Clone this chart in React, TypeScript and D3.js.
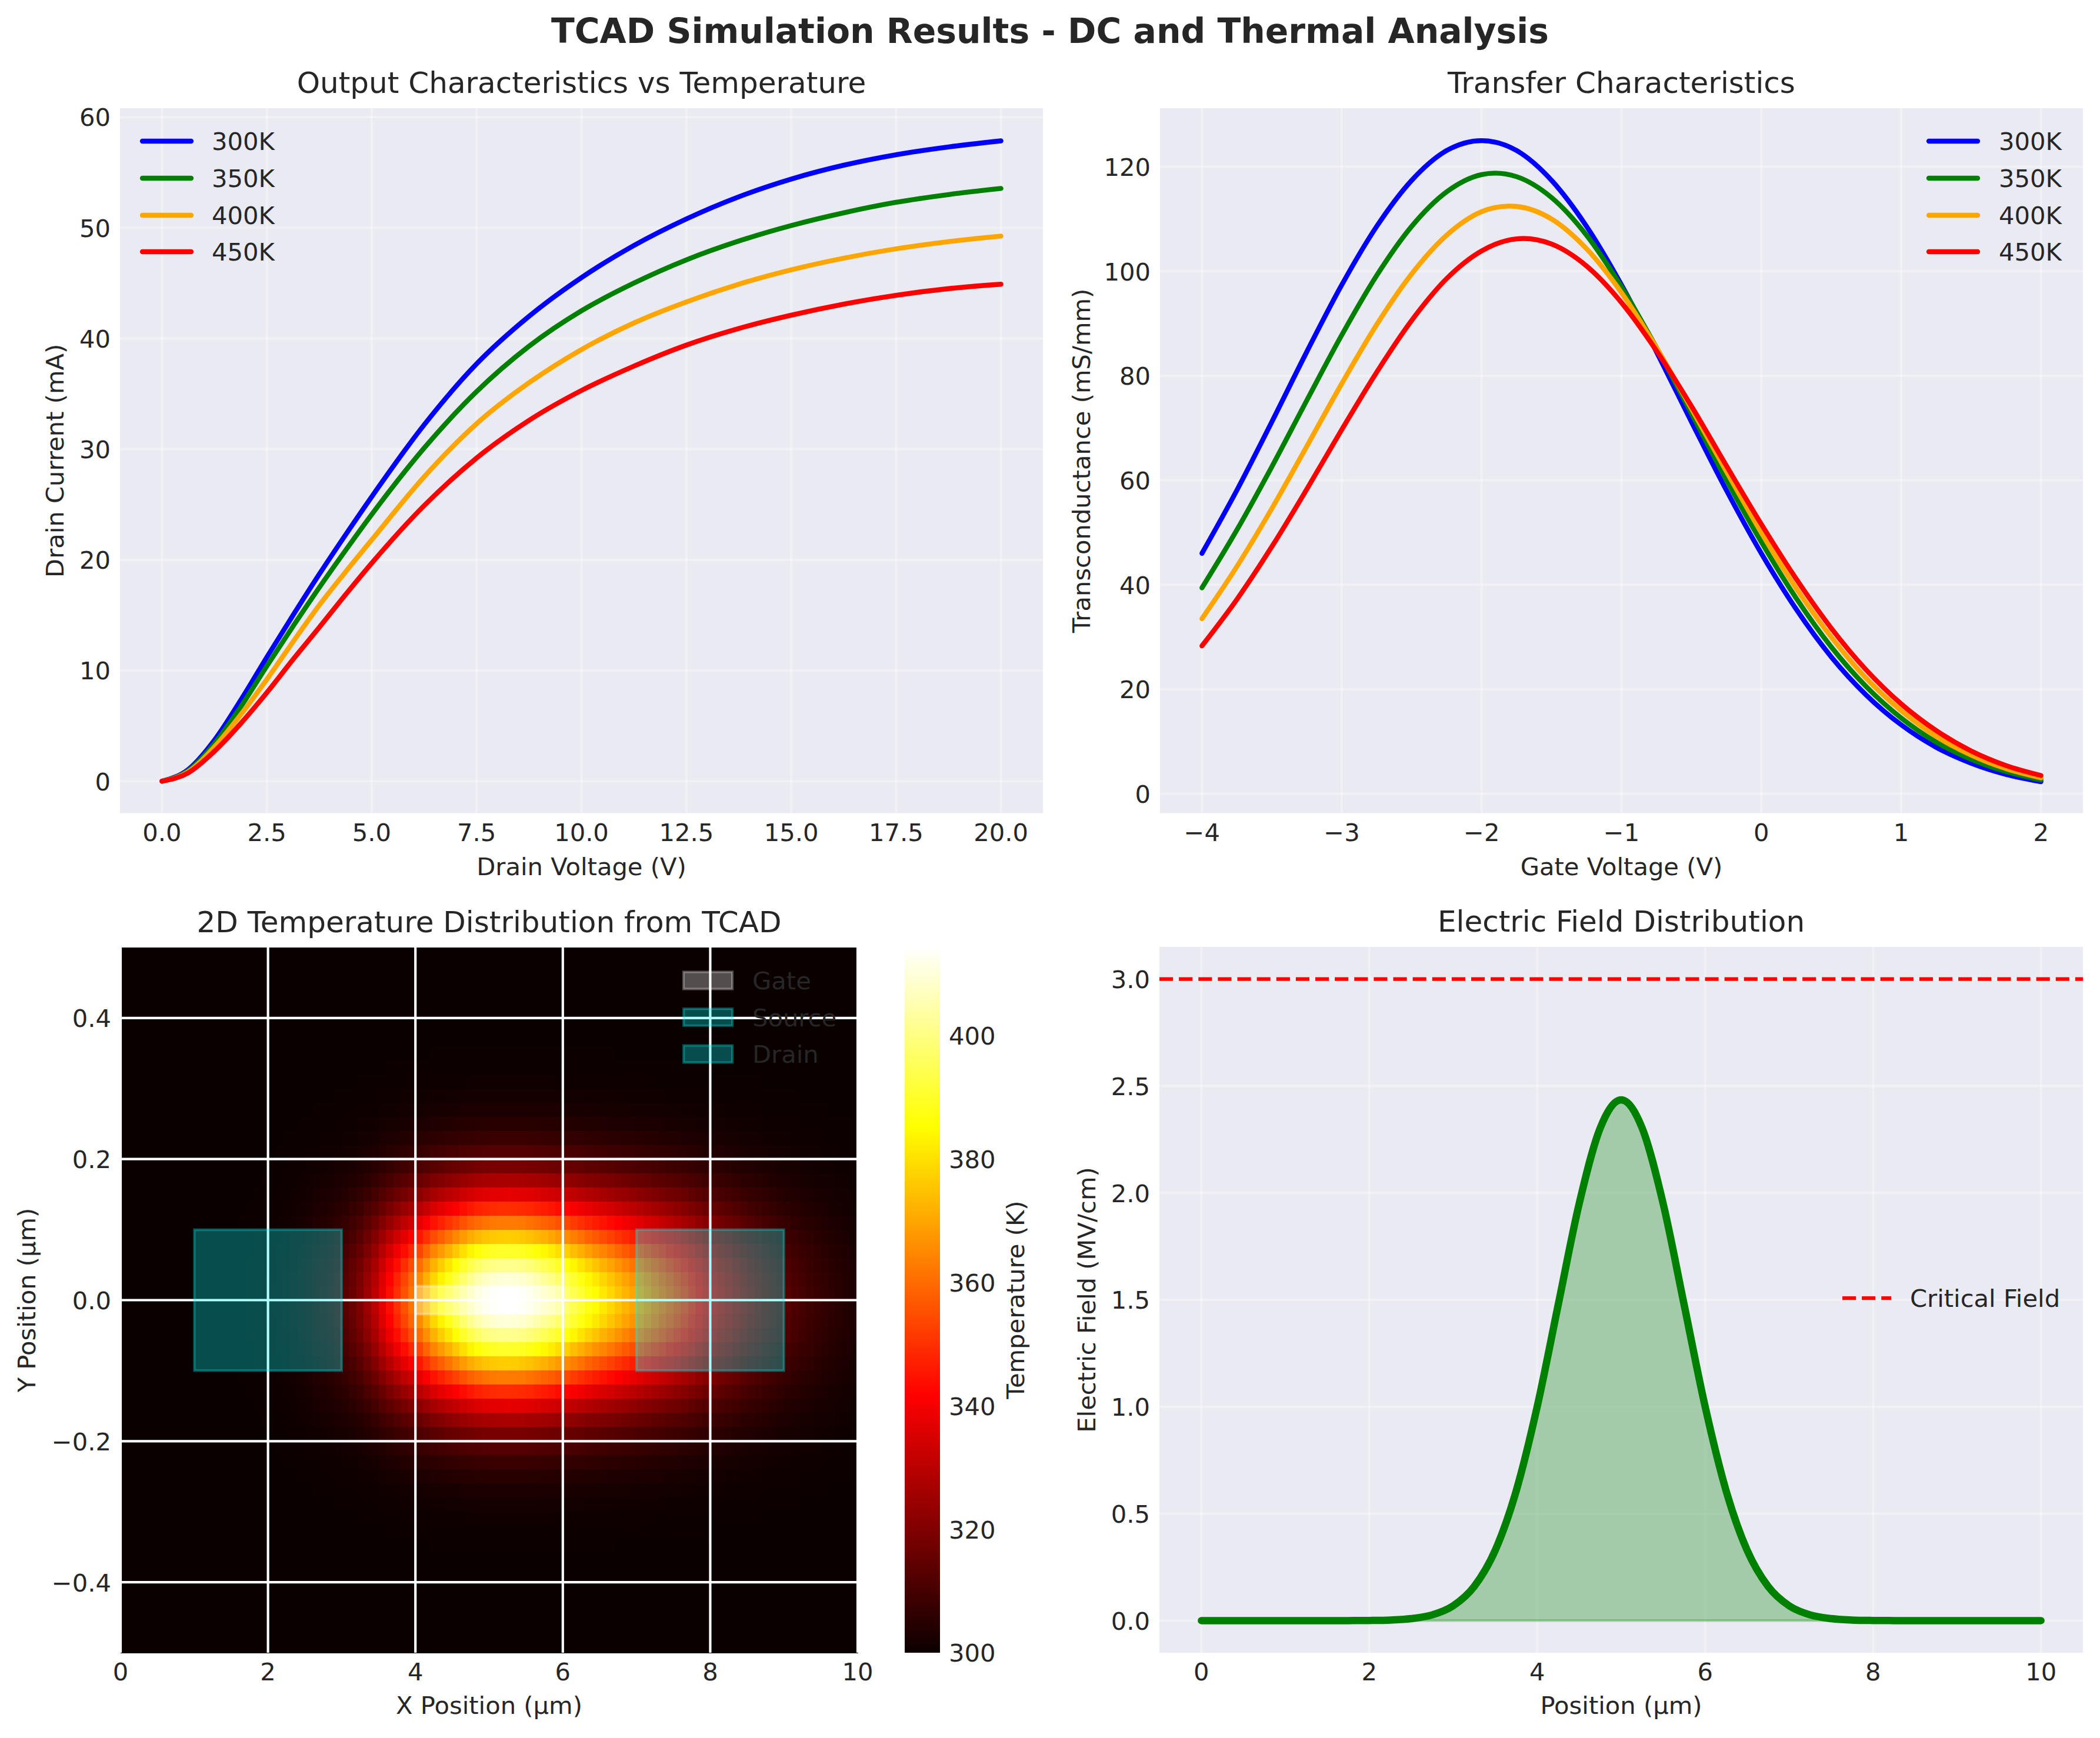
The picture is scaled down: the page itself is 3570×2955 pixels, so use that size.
import React, { useEffect, useRef } from 'react';
import * as d3 from 'd3';

const temperatures = ['300K', '350K', '400K', '450K'];
const seriesColors = ['#0000ff', '#008000', '#ffa500', '#ff0000'];

// Output characteristics
const drainV = [0, 0.625, 1.25, 1.875, 2.5, 3.125, 3.75, 4.375, 5, 6.25, 7.5, 8.75, 10, 11.25, 12.5, 13.75, 15, 16.25, 17.5, 18.75, 20];
const id300 = [0, 1.05, 3.7, 7.3, 11.2, 15.0, 18.7, 22.25, 25.7, 32.2, 37.7, 42.0, 45.5, 48.4, 50.8, 52.8, 54.4, 55.65, 56.6, 57.3, 57.85];
const id350 = [0, 0.95, 3.4, 6.7, 10.4, 14.0, 17.5, 20.85, 24.1, 30.1, 35.2, 39.3, 42.5, 45.0, 47.1, 48.8, 50.2, 51.35, 52.3, 53.0, 53.55];
const id400 = [0, 0.85, 3.1, 6.0, 9.2, 12.6, 15.9, 18.9, 21.8, 27.5, 32.3, 36.0, 39.0, 41.4, 43.3, 44.9, 46.2, 47.25, 48.1, 48.75, 49.25];
const id450 = [0, 0.75, 2.7, 5.2, 8.0, 11.0, 13.9, 16.85, 19.7, 24.9, 29.2, 32.6, 35.3, 37.5, 39.4, 40.9, 42.1, 43.1, 43.9, 44.5, 44.9];
const outputSeries = [id300, id350, id400, id450];

// Transfer characteristics, top right panel
const gateV = [-4, -3.75, -3.5, -3.25, -3, -2.75, -2.5, -2.25, -2, -1.75, -1.5, -1.25, -1, -0.75, -0.5, -0.25, 0, 0.25, 0.5, 0.75, 1, 1.25, 1.5, 1.75, 2];
const gm300 = [46.0, 58.1, 71.2, 84.6, 97.4, 108.6, 117.4, 123.1, 125.0, 123.1, 117.4, 108.6, 97.4, 84.6, 71.2, 58.1, 46.0, 35.3, 26.2, 18.9, 13.2, 8.9, 5.85, 3.7, 2.3];
const gm350 = [39.4, 50.5, 62.6, 75.3, 87.8, 99.2, 108.6, 115.2, 118.5, 118.1, 114.1, 106.9, 97.0, 85.4, 72.8, 60.1, 48.2, 37.4, 28.1, 20.5, 14.5, 9.9, 6.6, 4.25, 2.65];
const gm400 = [33.5, 43.5, 54.6, 66.5, 78.5, 89.8, 99.5, 106.9, 111.4, 112.4, 110.0, 104.3, 95.9, 85.4, 73.7, 61.7, 50.0, 39.3, 30.0, 22.1, 15.9, 11.0, 7.4, 4.8, 3.05];
const gm450 = [28.3, 37.2, 47.3, 58.3, 69.7, 80.7, 90.6, 98.6, 103.9, 106.2, 105.2, 101.0, 94.0, 84.8, 74.2, 62.8, 51.6, 41.1, 31.7, 23.7, 17.2, 12.1, 8.2, 5.4, 3.5];
const transferSeries = [gm300, gm350, gm400, gm450];

// Temperature map: rise above 300 K along the centre row (100 columns) and falloff per row (50 rows)
const columnRise = [
  0, 0, 0, 0, 0, 0, 0, 0, 0, 0,
  0, 0, 0, 0.1, 0.1, 0.2, 0.3, 0.4, 0.6, 0.9,
  1.2, 1.7, 2.3, 3.1, 4.1, 5.3, 6.8, 8.0, 9.5, 11.5,
  13.5, 16.5, 20, 25, 30.5, 37.5, 44, 50, 56, 62,
  68.5, 75, 82, 87, 92, 97, 102, 106.5, 110, 112.5,
  114, 114.8, 115, 114.7, 113.8, 112, 110, 107.5, 105, 102,
  98.5, 95, 91.5, 88, 85, 82, 79, 76, 73, 70,
  67, 64, 61, 58, 55, 52, 49, 45.5, 42, 38.5,
  35, 32.5, 30, 27.5, 25, 22.5, 20.5, 18.5, 16.5, 14.5,
  13, 11.5, 10, 9, 7.8, 6.8, 5.8, 5, 4.2, 3.5,
];
const rowFalloff = [
  0, 0, 0, 0, 0, 0.0005, 0.001, 0.002, 0.004, 0.008,
  0.015, 0.026, 0.044, 0.071, 0.11, 0.164, 0.236, 0.325, 0.43, 0.546,
  0.667, 0.783, 0.882, 0.956, 0.995, 0.995, 0.956, 0.882, 0.783, 0.667,
  0.546, 0.43, 0.325, 0.236, 0.164, 0.11, 0.071, 0.044, 0.026, 0.015,
  0.008, 0.004, 0.002, 0.001, 0.0005, 0, 0, 0, 0, 0,
];
const regionNames = ['Gate', 'Source', 'Drain'];
const regionFill = ['#ffffff', '#00ffff', '#00ffff'];
const regionX0 = [4, 1, 7];
const regionX1 = [6, 3, 9];
const regionHalfY = [0.02, 0.1, 0.1];

// Electric field, bottom right panel
const fieldX = [0, 0.25, 0.5, 0.75, 1, 1.25, 1.5, 1.75, 2, 2.25, 2.5, 2.75, 3, 3.25, 3.5, 3.75, 4, 4.25, 4.5, 4.75, 5, 5.25, 5.5, 5.75, 6, 6.25, 6.5, 6.75, 7, 7.25, 7.5, 7.75, 8, 8.25, 8.5, 8.75, 9, 9.25, 9.5, 9.75, 10];
const fieldE = [0, 0, 0, 0, 0, 0, 0, 0.0002, 0.0008, 0.0029, 0.0094, 0.027, 0.0696, 0.16, 0.329, 0.607, 1.001, 1.477, 1.95, 2.303, 2.435, 2.303, 1.95, 1.477, 1.001, 0.607, 0.329, 0.16, 0.0696, 0.027, 0.0094, 0.0029, 0.0008, 0.0002, 0, 0, 0, 0, 0, 0, 0];
const criticalField = 3.0;

const WIDTH = 3570;
const HEIGHT = 2955;
const FONT = '"DejaVu Sans", sans-serif';
const INK = '#262626';
const TICK_SIZE = 41.67;
const LW = 300 / 72; // 1pt at 300 dpi

const hotR = d3.scaleLinear<number>().domain([0, 0.365079, 1]).range([10.6, 255, 255]);
const hotG = d3.scaleLinear<number>().domain([0, 0.365079, 0.746032, 1]).range([0, 0, 255, 255]);
const hotB = d3.scaleLinear<number>().domain([0, 0.746032, 1]).range([0, 0, 255]);
const TEMP_MIN = 300;
const TEMP_MAX = 414.3;
const hot = (temp: number) => {
  const t = (temp - TEMP_MIN) / (TEMP_MAX - TEMP_MIN);
  return `rgb(${hotR(t)},${hotG(t)},${hotB(t)})`;
};

type G = d3.Selection<SVGGElement, unknown, null, undefined>;
type Scale = d3.ScaleLinear<number, number>;

function frame(g: G, x: Scale, y: Scale, xTicks: number[], yTicks: number[], xFmt: string, yFmt: string, gridOpacity: number) {
  const [left, right] = x.range();
  const [bottom, top] = y.range();
  const xAxis = g.append('g').attr('transform', `translate(0,${bottom})`)
    .call(d3.axisBottom(x).tickValues(xTicks).tickFormat(d3.format(xFmt) as any).tickSize(-(bottom - top)).tickPadding(17.5).offset(0));
  const yAxis = g.append('g').attr('transform', `translate(${left},0)`)
    .call(d3.axisLeft(y).tickValues(yTicks).tickFormat(d3.format(yFmt) as any).tickSize(-(right - left)).tickPadding(16).offset(0));
  [xAxis, yAxis].forEach(a => {
    a.select('.domain').remove();
    a.selectAll('line').attr('stroke', '#fff').attr('stroke-width', LW).attr('stroke-opacity', gridOpacity);
    a.selectAll('text').attr('fill', INK).style('font-size', `${TICK_SIZE}px`).style('font-family', FONT);
  });
  yAxis.selectAll('text').attr('dy', '0.37em');
}

function labels(g: G, x: Scale, y: Scale, title: string, xLabel: string, yLabel: string, yLabelX: number, xLabelDrop = 104) {
  const [left, right] = x.range();
  const [bottom, top] = y.range();
  const cx = (left + right) / 2;
  const cy = (bottom + top) / 2;
  const text = (size: number) => g.append('text').attr('fill', INK).attr('text-anchor', 'middle')
    .style('font-family', FONT).style('font-size', `${size}px`);
  text(50).attr('x', cx).attr('y', top - 26).text(title);
  text(TICK_SIZE).attr('x', cx).attr('y', bottom + xLabelDrop).text(xLabel);
  text(TICK_SIZE).attr('transform', `translate(${yLabelX},${cy}) rotate(-90)`).text(yLabel);
}

function lineLegend(g: G, handleX: number, textX: number, rows: number[]) {
  temperatures.forEach((name, i) => {
    g.append('line').attr('x1', handleX).attr('x2', handleX + 83).attr('y1', rows[i]).attr('y2', rows[i])
      .attr('stroke', seriesColors[i]).attr('stroke-width', 2 * LW).attr('stroke-linecap', 'round');
    g.append('text').attr('x', textX).attr('y', rows[i]).attr('dy', '0.36em').attr('fill', INK)
      .style('font-family', FONT).style('font-size', `${TICK_SIZE}px`).text(name);
  });
}

function drawLines(g: G, x: Scale, y: Scale, xs: number[], series: number[][], curve: d3.CurveFactory) {
  series.forEach((values, i) => {
    const line = d3.line<number>().x((_, k) => x(xs[k])).y(d => y(d)).curve(curve);
    g.append('path').attr('d', line(values)).attr('fill', 'none').attr('stroke', seriesColors[i])
      .attr('stroke-width', 2 * LW).attr('stroke-linecap', 'round').attr('stroke-linejoin', 'round');
  });
}

const plotBox = (g: G, x: Scale, y: Scale, fill: string) => {
  const [left, right] = x.range();
  const [bottom, top] = y.range();
  g.append('rect').attr('x', left).attr('y', top).attr('width', right - left).attr('height', bottom - top).attr('fill', fill);
};

export default function App() {
  const svgRef = useRef<SVGSVGElement>(null);

  useEffect(() => {
    if (!svgRef.current) return;
    const svg = d3.select(svgRef.current);
    svg.selectAll('*').remove();
    const root = svg.append('g') as unknown as G;
    const uniformCurve = d3.curveCatmullRom.alpha(0);

    root.append('text').attr('x', 1785).attr('y', 73).attr('text-anchor', 'middle').attr('fill', INK)
      .style('font-family', FONT).style('font-size', '58.33px').style('font-weight', 'bold')
      .text('TCAD Simulation Results - DC and Thermal Analysis');

    // Output characteristics
    const p1 = root.append('g') as unknown as G;
    const x1 = d3.scaleLinear().domain([-1, 21]).range([204, 1773]);
    const y1 = d3.scaleLinear().domain([-2.89, 60.8]).range([1382.6, 184]);
    plotBox(p1, x1, y1, '#eaeaf2');
    frame(p1, x1, y1, d3.range(0, 20.1, 2.5), d3.range(0, 61, 10), '.1f', 'd', 0.3);
    drawLines(p1, x1, y1, drainV, outputSeries, d3.curveMonotoneX);
    lineLegend(p1, 242, 360, [240, 303, 366, 428]);
    labels(p1, x1, y1, 'Output Characteristics vs Temperature', 'Drain Voltage (V)', 'Drain Current (mA)', 108, 105.5);

    // Transfer characteristics
    const p2 = root.append('g') as unknown as G;
    const x2 = d3.scaleLinear().domain([-4.3, 2.3]).range([1972, 3541]);
    const y2 = d3.scaleLinear().domain([-3.72, 131.2]).range([1382.6, 184]);
    plotBox(p2, x2, y2, '#eaeaf2');
    frame(p2, x2, y2, d3.range(-4, 2.1, 1), d3.range(0, 121, 20), 'd', 'd', 0.3);
    drawLines(p2, x2, y2, gateV, transferSeries, uniformCurve);
    lineLegend(p2, 3279, 3398, [240, 303, 366, 428]);
    labels(p2, x2, y2, 'Transfer Characteristics', 'Gate Voltage (V)', 'Transconductance (mS/mm)', 1853, 105.5);

    // Temperature map
    const p3 = root.append('g') as unknown as G;
    const x3 = d3.scaleLinear().domain([0, 10]).range([205, 1458]);
    const y3 = d3.scaleLinear().domain([-0.5, 0.5]).range([2810, 1611]);
    const colBand = d3.scaleBand<number>().domain(d3.range(columnRise.length)).range(x3.range() as [number, number]);
    const rowBand = d3.scaleBand<number>().domain(d3.range(rowFalloff.length)).range(y3.range().slice().reverse() as [number, number]);
    const cells = p3.append('g').attr('shape-rendering', 'crispEdges');
    rowFalloff.forEach((fall, r) => {
      columnRise.forEach((rise, c) => {
        cells.append('rect').attr('x', colBand(c)!).attr('y', rowBand(r)!)
          .attr('width', colBand.bandwidth() + 0.5).attr('height', rowBand.bandwidth() + 0.5)
          .attr('fill', hot(TEMP_MIN + rise * fall));
      });
    });
    frame(p3, x3, y3, d3.range(0, 10.1, 2), d3.range(-0.4, 0.41, 0.2), 'd', '.1f', 1);
    regionNames.forEach((name, i) => {
      p3.append('rect').attr('x', x3(regionX0[i])).attr('y', y3(regionHalfY[i]))
        .attr('width', x3(regionX1[i]) - x3(regionX0[i])).attr('height', y3(-regionHalfY[i]) - y3(regionHalfY[i]))
        .attr('fill', regionFill[i]).attr('fill-opacity', 0.3)
        .attr('stroke', regionFill[i]).attr('stroke-opacity', 0.3).attr('stroke-width', LW);
      const rowY = [1667, 1729.5, 1792][i];
      p3.append('rect').attr('x', 1162).attr('y', rowY - 14.5).attr('width', 83).attr('height', 29)
        .attr('fill', regionFill[i]).attr('fill-opacity', 0.3)
        .attr('stroke', regionFill[i]).attr('stroke-opacity', 0.3).attr('stroke-width', LW);
      p3.append('text').attr('x', 1279).attr('y', rowY).attr('dy', '0.36em').attr('fill', INK)
        .style('font-family', FONT).style('font-size', `${TICK_SIZE}px`).text(name);
    });
    labels(p3, x3, y3, '2D Temperature Distribution from TCAD', 'X Position (µm)', 'Y Position (µm)', 60);

    // Colour bar
    const cbar = root.append('g') as unknown as G;
    const defs = svg.append('defs');
    const grad = defs.append('linearGradient').attr('id', 'hotBar').attr('x1', 0).attr('y1', 1).attr('x2', 0).attr('y2', 0);
    [0, 0.365079, 0.746032, 1].forEach(t => {
      grad.append('stop').attr('offset', t).attr('stop-color', hot(TEMP_MIN + t * (TEMP_MAX - TEMP_MIN)));
    });
    const yc = d3.scaleLinear().domain([TEMP_MIN, TEMP_MAX]).range([2810, 1611]);
    cbar.append('rect').attr('x', 1538).attr('y', 1611).attr('width', 60).attr('height', 1199).attr('fill', 'url(#hotBar)');
    const cAxis = cbar.append('g').attr('transform', 'translate(1598,0)')
      .call(d3.axisRight(yc).tickValues(d3.range(300, 401, 20)).tickSize(0).tickPadding(15).offset(0));
    cAxis.select('.domain').remove();
    cAxis.selectAll('text').attr('fill', INK).attr('dy', '0.37em').style('font-size', `${TICK_SIZE}px`).style('font-family', FONT);
    cbar.append('text').attr('transform', 'translate(1741,2210) rotate(-90)').attr('text-anchor', 'middle').attr('fill', INK)
      .style('font-family', FONT).style('font-size', `${TICK_SIZE}px`).text('Temperature (K)');

    // Electric field
    const p4 = root.append('g') as unknown as G;
    const x4 = d3.scaleLinear().domain([-0.5, 10.5]).range([1971, 3541]);
    const y4 = d3.scaleLinear().domain([-0.15, 3.15]).range([2810, 1610]);
    plotBox(p4, x4, y4, '#eaeaf2');
    frame(p4, x4, y4, d3.range(0, 10.1, 2), d3.range(0, 3.01, 0.5), 'd', '.1f', 0.3);
    const area = d3.area<number>().x((_, k) => x4(fieldX[k])).y0(y4(0)).y1(d => y4(d)).curve(uniformCurve);
    p4.append('path').attr('d', area(fieldE)).attr('fill', '#008000').attr('fill-opacity', 0.3)
      .attr('stroke', '#008000').attr('stroke-opacity', 0.3).attr('stroke-width', LW);
    const fieldLine = d3.line<number>().x((_, k) => x4(fieldX[k])).y(d => y4(d)).curve(uniformCurve);
    p4.append('path').attr('d', fieldLine(fieldE)).attr('fill', 'none').attr('stroke', '#008000')
      .attr('stroke-width', 3 * LW).attr('stroke-linecap', 'round').attr('stroke-linejoin', 'round');
    const dash = `${3.7 * 1.5 * LW} ${1.6 * 1.5 * LW}`;
    p4.append('line').attr('x1', 1971).attr('x2', 3541).attr('y1', y4(criticalField)).attr('y2', y4(criticalField))
      .attr('stroke', '#ff0000').attr('stroke-width', 1.5 * LW).attr('stroke-dasharray', dash);
    p4.append('line').attr('x1', 3132).attr('x2', 3215).attr('y1', 2207).attr('y2', 2207)
      .attr('stroke', '#ff0000').attr('stroke-width', 1.5 * LW).attr('stroke-dasharray', dash);
    p4.append('text').attr('x', 3247).attr('y', 2207).attr('dy', '0.36em').attr('fill', INK)
      .style('font-family', FONT).style('font-size', `${TICK_SIZE}px`).text('Critical Field');
    labels(p4, x4, y4, 'Electric Field Distribution', 'Position (µm)', 'Electric Field (MV/cm)', 1862);
  }, []);

  return (
    <svg
      ref={svgRef}
      width={WIDTH}
      height={HEIGHT}
      viewBox={`0 0 ${WIDTH} ${HEIGHT}`}
      style={{ position: 'absolute', top: 0, left: 0, background: '#fff' }}
    />
  );
}
